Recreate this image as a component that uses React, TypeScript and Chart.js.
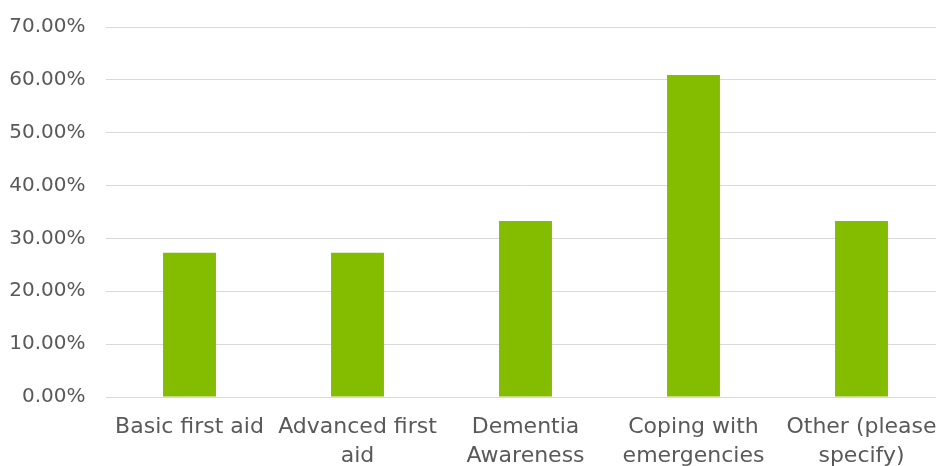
import React, { useEffect, useRef } from "react";
import { Chart, registerables } from "chart.js";

Chart.register(...registerables);

const categories: string[][] = [
  ["Basic first aid"],
  ["Advanced first", "aid"],
  ["Dementia", "Awareness"],
  ["Coping with", "emergencies"],
  ["Other (please", "specify)"],
];
const values: number[] = [27.3, 27.3, 33.3, 60.9, 33.3];
const yMin = 0;
const yMax = 70;
const yStep = 10;

export default function App() {
  const ref = useRef<HTMLCanvasElement | null>(null);
  useEffect(() => {
    if (!ref.current) return;
    const chart = new Chart(ref.current, {
      type: "bar",
      data: {
        labels: categories,
        datasets: [
          {
            data: values,
            backgroundColor: "#84BD00",
            borderWidth: 0,
            barPercentage: 0.315,
            categoryPercentage: 1,
          },
        ],
      },
      options: {
        animation: false,
        responsive: true,
        maintainAspectRatio: false,
        layout: { padding: { left: 0, right: 14.5, top: 27, bottom: 0 } },
        plugins: { legend: { display: false }, tooltip: { enabled: false } },
        scales: {
          x: {
            grid: { display: false, drawTicks: false },
            border: { display: false },
            ticks: {
              color: "#595959",
              font: { family: "DejaVu Sans", size: 22, lineHeight: 1.3 },
              padding: 16,
              maxRotation: 0,
              autoSkip: false,
            },
            afterFit: (s: any) => {
              s.height = 103;
            },
          },
          y: {
            min: yMin,
            max: yMax,
            grid: { color: "#D9D9D9", lineWidth: 1, drawTicks: false },
            border: { display: false },
            ticks: {
              stepSize: yStep,
              color: "#595959",
              font: { family: "DejaVu Sans", size: 20 },
              padding: 20,
              callback: (v: any) => Number(v).toFixed(2) + "%",
            },
            afterFit: (s: any) => {
              s.width = 105.5;
              s.paddingTop = 0;
              s.paddingBottom = 0;
            },
          },
        },
      },
    });
    return () => chart.destroy();
  }, []);
  return (
    <div style={{ position: "fixed", left: 0, top: 0, width: 960, height: 500, background: "#fff" }}>
      <canvas ref={ref} />
    </div>
  );
}
